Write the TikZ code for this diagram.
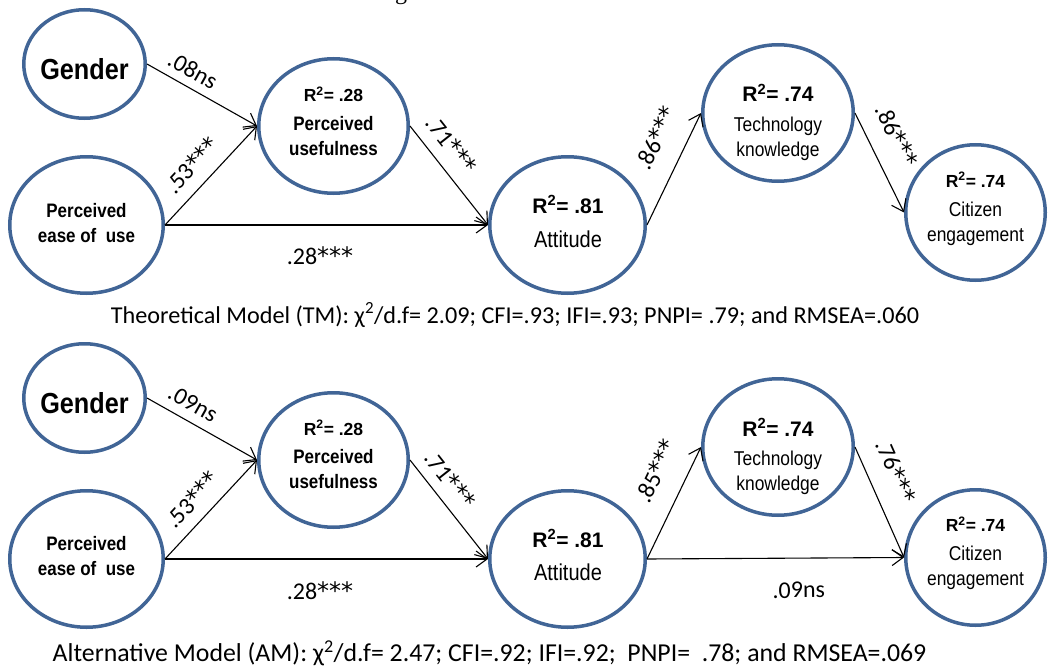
\documentclass[tikz,border=0pt]{standalone}
\usepackage{fontspec}
\setmainfont{Carlito}
\newfontfamily\narrow[FakeStretch=0.87]{Liberation Sans}
\newfontfamily\wide{Liberation Sans}
\newfontfamily\serifg{Liberation Serif}
\newfontfamily\astfont{DejaVu Sans}
\newcommand{\sss}{{\astfont***}}
\usetikzlibrary{shapes.geometric,arrows.meta}
\definecolor{ringblue}{RGB}{65,101,150}
\newcommand{\fs}[1]{\fontsize{#1}{#1}\selectfont}
\begin{document}
\begin{tikzpicture}[x=1pt,y=-1pt,
  latent/.style={ellipse, draw=ringblue, line width=3.5pt, inner sep=0pt},
  lbl/.style={anchor=base, inner sep=0pt},
  conn/.style={draw=black, line width=1.1pt, -{Straight Barb[length=11pt,width=16pt]}},
  coef/.style={font=\fs{24}, inner sep=0pt, sloped},
  capt/.style={anchor=base, inner sep=0pt},
  bigb/.style={font={\narrow\fs{29}\bfseries}},
  midb/.style={font={\narrow\fs{19.5}\bfseries}},
  smlb/.style={font={\wide\fs{17.5}\bfseries}},
  rsq/.style={font={\wide\fs{21}\bfseries}},
  reg/.style={font={\narrow\fs{20}}},
  regl/.style={font={\narrow\fs{23}}},
]
\useasboundingbox (0,0) rectangle (1050,669);
\node[anchor=base, inner sep=0pt, font={\serifg\fs{24}}] (topg) at (401,0) {g};

% ---------------- Theoretical model ----------------
\begin{scope}
\node[latent, minimum width=121.5pt, minimum height=108.5pt] (g1) at (84.5,64) {};
\node[latent, minimum width=153.5pt, minimum height=136.5pt] (peu1) at (86.5,225) {};
\node[latent, minimum width=149.5pt, minimum height=134.5pt] (pu1) at (333.5,126) {};
\node[latent, minimum width=155.5pt, minimum height=136.5pt] (att1) at (567.5,225) {};
\node[latent, minimum width=150.5pt, minimum height=136.5pt] (tk1) at (778,113) {};
\node[latent, minimum width=139.5pt, minimum height=135.5pt] (ce1) at (975.5,212.5) {};

\node[lbl, bigb] (g1a) at (84.5,80) {Gender};
\node[lbl, midb] (peu1a) at (86.5,217) {Perceived};
\node[lbl, midb] (peu1b) at (86.5,242) {ease of\ \ use};
\node[lbl, smlb] (pu1a) at (333.5,102) {R\textsuperscript{2}= .28};
\node[lbl, midb] (pu1b) at (333.5,130) {Perceived};
\node[lbl, midb] (pu1c) at (333.5,155) {usefulness};
\node[lbl, rsq] (att1a) at (568,213) {R\textsuperscript{2}= .81};
\node[lbl, regl] (att1b) at (568,247) {Attitude};
\node[lbl, rsq] (tk1a) at (778,102) {R\textsuperscript{2}= .74};
\node[lbl, reg] (tk1b) at (778,131) {Technology};
\node[lbl, reg] (tk1c) at (778,156.5) {knowledge};
\node[lbl, smlb] (ce1a) at (975.5,187) {R\textsuperscript{2}= .74};
\node[lbl, reg] (ce1b) at (975.5,216.5) {Citizen};
\node[lbl, reg] (ce1c) at (975.5,241) {engagement};

\draw[conn] (g1.east) -- (pu1.west) node[coef, pos=.34, above=8.5pt] (k1a) {.08ns};
\draw[conn] (peu1.east) -- (pu1.west) node[coef, pos=.46, above=11.8pt] (k1b) {.53\sss};
\draw[conn] (peu1.east) -- (att1.west) node[coef, pos=.48, below=20.7pt] (k1c) {.28\sss};
\draw[conn] (pu1.east) -- (att1.west) node[coef, pos=.32, above=11.8pt] (k1d) {.71\sss};
\draw[conn] (att1.east) -- (tk1.west) node[coef, pos=.66, above=20.2pt] (k1e) {.86\sss};
\draw[conn] (tk1.east) -- (ce1.west) node[coef, pos=.35, above=18.1pt] (k1f) {.86\sss};

\node[capt, font=\fs{24.2}] (cap1) at (515,323) {Theoretical Model (TM): χ\textsuperscript{2}/d.f= 2.09; CFI=.93; IFI=.93; PNPI= .79; and RMSEA=.060};
\end{scope}

% ---------------- Alternative model ----------------
\begin{scope}[shift={(0,334)}]
\node[latent, minimum width=121.5pt, minimum height=108.5pt] (g2) at (84.5,64) {};
\node[latent, minimum width=153.5pt, minimum height=136.5pt] (peu2) at (86.5,225) {};
\node[latent, minimum width=149.5pt, minimum height=134.5pt] (pu2) at (333.5,126) {};
\node[latent, minimum width=155.5pt, minimum height=136.5pt] (att2) at (567.5,225) {};
\node[latent, minimum width=150.5pt, minimum height=136.5pt] (tk2) at (778,113) {};
\node[latent, minimum width=139.5pt, minimum height=135.5pt] (ce2) at (975.5,223.5) {};

\node[lbl, bigb] (g2a) at (84.5,79) {Gender};
\node[lbl, midb] (peu2a) at (86.5,216) {Perceived};
\node[lbl, midb] (peu2b) at (86.5,241.5) {ease of\ \ use};
\node[lbl, smlb] (pu2a) at (333.5,101) {R\textsuperscript{2}= .28};
\node[lbl, midb] (pu2b) at (333.5,129.5) {Perceived};
\node[lbl, midb] (pu2c) at (333.5,154) {usefulness};
\node[lbl, rsq] (att2a) at (568,213) {R\textsuperscript{2}= .81};
\node[lbl, regl] (att2b) at (568,246) {Attitude};
\node[lbl, rsq] (tk2a) at (778,102) {R\textsuperscript{2}= .74};
\node[lbl, reg] (tk2b) at (778,131) {Technology};
\node[lbl, reg] (tk2c) at (778,156) {knowledge};
\node[lbl, smlb] (ce2a) at (975.5,197.5) {R\textsuperscript{2}= .74};
\node[lbl, reg] (ce2b) at (975.5,226) {Citizen};
\node[lbl, reg] (ce2c) at (975.5,251) {engagement};

\draw[conn] (g2.east) -- (pu2.west) node[coef, pos=.34, above=9pt] (k2a) {.09ns};
\draw[conn] (peu2.east) -- (pu2.west) node[coef, pos=.46, above=11.5pt] (k2b) {.53\sss};
\draw[conn] (peu2.east) -- (att2.west) node[coef, pos=.48, below=21.7pt] (k2c) {.28\sss};
\draw[conn] (pu2.east) -- (att2.west) node[coef, pos=.32, above=10.4pt] (k2d) {.71\sss};
\draw[conn] (att2.east) -- (tk2.west) node[coef, pos=.67, above=20.8pt] (k2e) {.85\sss};
\draw[conn] (tk2.east) -- (ce2.west) node[coef, pos=.32, above=18.3pt] (k2f) {.76\sss};
\draw[conn] (att2.east) -- (ce2.west) node[coef, pos=.59, below=23.7pt] (k2g) {.09ns};

\node[capt, font=\fs{25.8}] (cap2) at (489.5,327.5) {Alternative Model (AM): χ\textsuperscript{2}/d.f= 2.47; CFI=.92; IFI=.92;\ \ PNPI=\ \ .78; and RMSEA=.069};
\end{scope}
\end{tikzpicture}
\end{document}
